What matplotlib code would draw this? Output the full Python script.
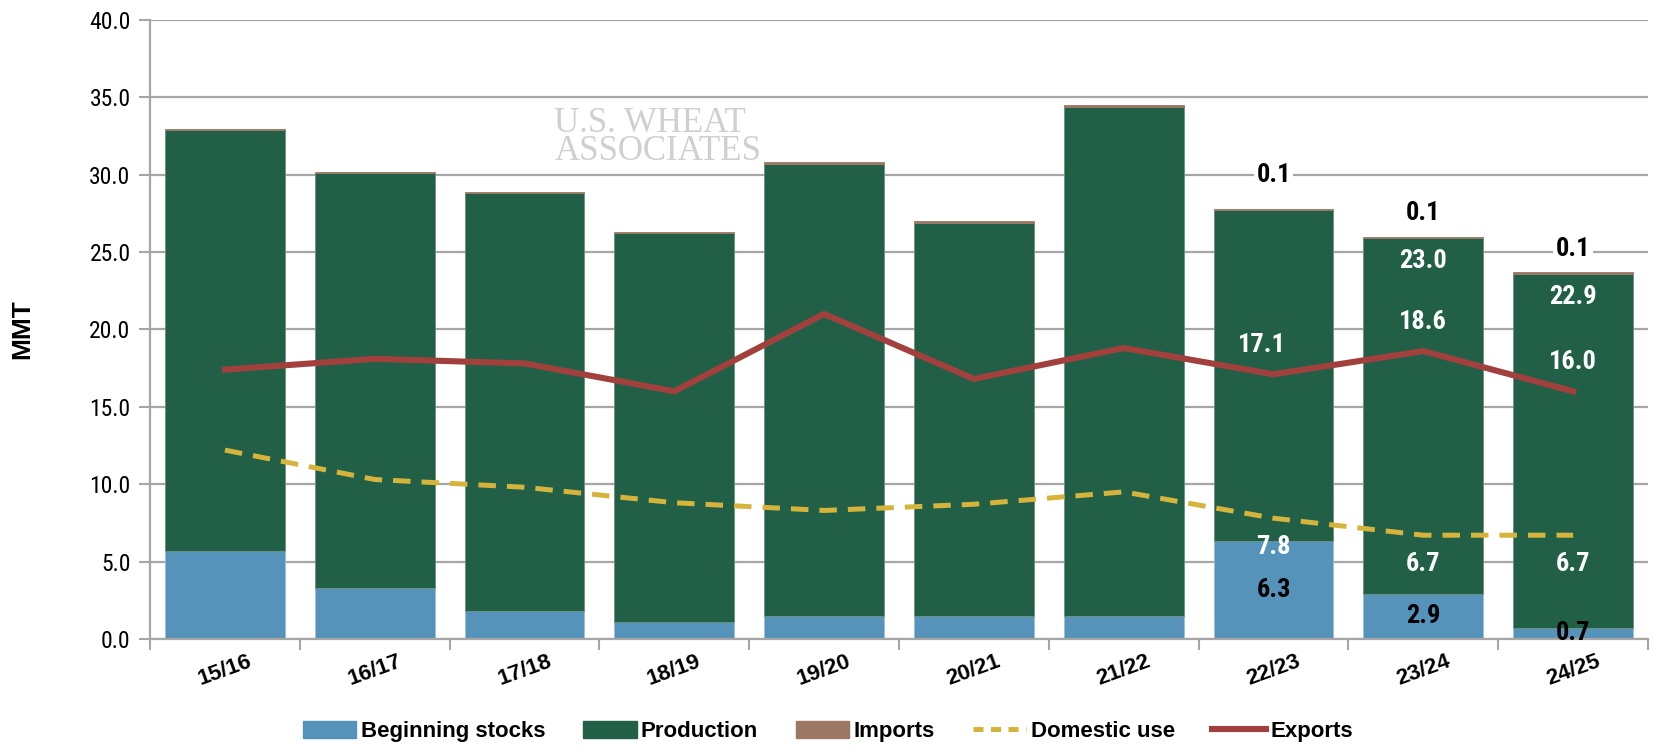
import matplotlib
matplotlib.use('Agg')
import matplotlib.pyplot as plt
import matplotlib.font_manager as fm
from matplotlib.patches import Patch
from matplotlib.lines import Line2D
import numpy as np

years = ['15/16', '16/17', '17/18', '18/19', '19/20', '20/21', '21/22', '22/23', '23/24', '24/25']
beginning_stocks = [5.7, 3.3, 1.8, 1.1, 1.5, 1.5, 1.5, 6.3, 2.9, 0.7]
production = [27.2, 26.8, 27.0, 25.1, 29.2, 25.4, 32.9, 21.4, 23.0, 22.9]
imports = [0.05, 0.05, 0.05, 0.1, 0.1, 0.1, 0.1, 0.1, 0.1, 0.1]
domestic_use = [12.2, 10.3, 9.8, 8.8, 8.3, 8.7, 9.5, 7.8, 6.7, 6.7]
exports = [17.4, 18.1, 17.8, 16.0, 21.0, 16.8, 18.8, 17.1, 18.6, 16.0]

# which years get value labels (the last three)
labelled = [7, 8, 9]
prod_labelled = [8, 9]

plt.rcParams['font.family'] = ['Liberation Sans', 'DejaVu Sans']

# look for a condensed face for numbers, else plain Liberation Sans
narrow = fm.FontProperties(family='Liberation Sans')
names = {f.name for f in fm.fontManager.ttflist}
for cand in ['Liberation Sans Narrow', 'Roboto Condensed', 'Open Sans Condensed']:
    if cand in names:
        narrow = fm.FontProperties(family=cand)
        break
else:
    path = fm.findfont(fm.FontProperties(family='DejaVu Sans', stretch='condensed'))
    if 'Condensed' in path:
        narrow = fm.FontProperties(fname=path)

c_stock = '#5593BA'
c_prod = '#216046'
c_imp = '#9C7763'
c_dom = '#D6B43C'
c_exp = '#A2403E'

fig = plt.figure(figsize=(16.56, 7.49), dpi=100)
ax = fig.add_axes([0.0906, 0.147, 0.9046, 0.8264])

x = np.arange(len(years))
w = 0.8
stocks = np.array(beginning_stocks)
prod = np.array(production)
imp = np.array(imports)

ax.bar(x, stocks, w, color=c_stock, edgecolor='#9DBFD3', linewidth=0.6, zorder=2)
ax.bar(x, prod, w, bottom=stocks, color=c_prod, edgecolor='#6E8F80', linewidth=0.6, zorder=2)
ax.bar(x, imp, w, bottom=stocks + prod, color=c_imp, edgecolor=c_imp, linewidth=0.6, zorder=2)
ax.plot(x, domestic_use, color=c_dom, lw=3.6, dashes=(3.5, 2.2), zorder=3)
ax.plot(x, exports, color=c_exp, lw=4.4, zorder=3)

ax.set_ylim(0, 40)
ax.set_xlim(-0.5, len(years) - 0.5)
yt = np.arange(0, 41, 5)
ax.set_yticks(yt)
ax.set_yticklabels([f'{v:.1f}' for v in yt])
for t in ax.get_yticklabels():
    t.set_fontproperties(narrow)
    t.set_fontsize(17)
ax.yaxis.grid(True, color='#A6A6A6', linewidth=1.6, zorder=1)
ax.set_axisbelow(True)

ax.set_xticks(x)
ax.set_xticklabels(years, rotation=20, fontsize=16, fontweight='bold', ha='center')
for t in ax.get_xticklabels():
    t.set_x(t.get_position()[0] - 0.12)
ax.set_xticks(np.arange(-0.5, len(years)), minor=True)
ax.tick_params(axis='x', which='major', length=0, pad=9)
ax.tick_params(axis='x', which='minor', length=8, width=1.5, color='#A6A6A6')
ax.tick_params(axis='y', length=8, width=1.5, color='#A6A6A6', pad=6)

for s in ['top', 'right']:
    ax.spines[s].set_visible(False)
for s in ['left', 'bottom']:
    ax.spines[s].set_color('#A6A6A6')
    ax.spines[s].set_linewidth(1.6)

ax.set_ylabel('MMT', fontsize=19, fontweight='bold')
ax.yaxis.set_label_coords(-0.077, 0.5)

# watermark
ax.text(2.2, 32.4, 'U.S. WHEAT\nASSOCIATES', family=['Liberation Serif', 'DejaVu Serif'],
        fontsize=25, color='#CFCFCF', va='center', ha='left', linespacing=0.8, zorder=1.5)

lab = dict(fontproperties=narrow, ha='center', va='center', zorder=5)
tops = stocks + prod + imp


def put(xv, yv, s, color, **kw):
    t = ax.text(xv, yv, s, color=color, **lab, **kw)
    t.set_fontsize(19)
    t.set_fontweight('bold')


for i in labelled:
    off = 2.2 if i == 7 else 1.5
    put(x[i], tops[i] + off, f'{imp[i]:.1f}', 'black',
        bbox=dict(facecolor='white', edgecolor='none', pad=1))
    put(x[i] - (0.08 if i == 7 else 0), exports[i] + 1.9, f'{exports[i]:.1f}', 'white')
    put(x[i], domestic_use[i] - 1.85, f'{domestic_use[i]:.1f}', 'white')
    put(x[i], stocks[i] / 2, f'{stocks[i]:.1f}', 'black')
for i in prod_labelled:
    put(x[i], tops[i] - 1.6, f'{prod[i]:.1f}', 'white')

handles = [Patch(color=c_stock), Patch(color=c_prod), Patch(color=c_imp),
           Line2D([], [], color=c_dom, lw=3.6, dashes=(2, 1.5)),
           Line2D([], [], color=c_exp, lw=4.4)]
labels = ['Beginning stocks', 'Production', 'Imports', 'Domestic use', 'Exports']
fig.legend(handles, labels, loc='center', bbox_to_anchor=(0.5, 0.023), ncol=5, frameon=False,
           prop=dict(size=16, weight='bold'), handlelength=2.4, handleheight=0.75,
           handletextpad=0.2, columnspacing=1.7)

fig.savefig('out.png', dpi=100)
